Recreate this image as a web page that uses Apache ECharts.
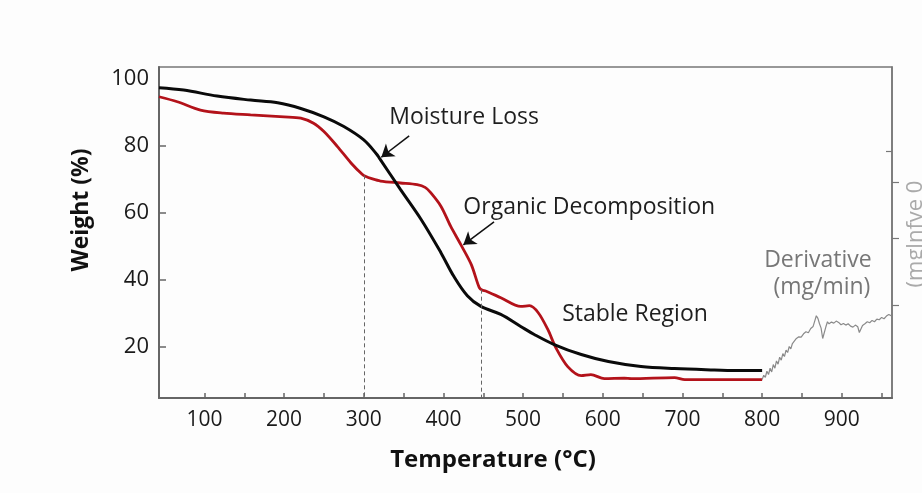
<!DOCTYPE html>
<html>
<head>
<meta charset="utf-8">
<script src="https://cdn.jsdelivr.net/npm/echarts@6/dist/echarts.min.js"></script>
<style>
html,body{margin:0;padding:0;background:#fdfdfd;}
#c{width:922px;height:493px;}
</style>
</head>
<body>
<div id="c"></div>
<script>
// ---- data ----
const blackTemp   = [43,74,116,158,192,221,250,275,300,316,320,346,372,397,413,430,447,472,497,514,539,573,607,648,690,740,774,800];
const blackWeight = [97.4,96.7,94.9,93.7,92.9,91.2,88.7,85.8,81.8,77.6,76.2,67,58,48,41,35.2,32,29.6,26,23.6,20.6,17.6,15.5,14,13.4,13,12.8,12.8];

const redTemp   = [43,66,95,124,158,200,221,237,250,267,284,298,302,310,321,346,367,377,384,397,409,422,435,445,449,453,472,497,508,519,531,541,556,573,585,602,627,636,690,703,800];
const redWeight = [94.7,93.2,90.7,89.8,89.3,88.7,88.3,86.8,84.3,79.8,74.9,71.5,70.9,70.2,69.5,68.9,68.4,67.6,66,61.9,56,50.4,44.5,37.6,36.8,36.6,34.6,32,32.2,30.1,25.1,19.7,14,11.3,11.6,10.4,10.5,10.4,10.7,10.1,10.1];

const derivTemp  = [800,802,804,806,808,810,812,814,816,818,820,822,824,826,828,830,832,834,836,838,840,843,846,849,852,855,858,861,864,866,868,870,872,874,876,878,880,882,884,887,890,893,896,899,902,905,908,911,914,917,920,922,924,926,929,932,935,938,941,944,947,950,953,956,959,962];
const derivValue = [10.1,11.4,10.8,12.6,11.6,13.5,12.4,14.6,13.5,15.7,14.7,16.8,15.9,17.9,17.0,18.9,18.2,20.0,19.3,20.9,21.0,22.4,22.9,22.8,23.8,24.4,24.1,25.4,26.0,27.6,29.2,28.4,26.8,25.5,22.4,22.0,25.9,27.4,26.8,27.3,27.0,27.6,27.2,26.5,26.9,26.4,26.8,26.1,25.8,26.4,25.9,24.2,24.6,26.3,26.8,27.4,27.1,27.8,27.4,28.2,28.0,28.7,28.3,29.1,29.6,29.2];

const xTickLabels = [100,200,300,400,500,600,700,800,900];
const xMinorTicks = [100,150,200,250,300,350,400,450,500,550,600,650,700,750,800,850,900,950];
const yTickLabels = [20,40,60,80,100];
const yTicks      = [20,40,60,80];
const rightTicksOut = [32.2,52.5,69];
const rightTicksIn  = [78.5];

const annotations = [
  {name:'Moisture Loss', t:332, w:88.4},
  {name:'Organic Decomposition', t:425, w:61.5},
  {name:'Stable Region', t:549, w:29.5}
];
const arrows = [
  {from:[357,83], to:[322,76.6]},
  {from:[463.5,57.3], to:[425,50.4]}
];
const dashedAt = [[300,71.2],[447,37]];

// ---- chart ----
const zip = (a,b)=>a.map((v,i)=>[v,b[i]]);
const chart = echarts.init(document.getElementById('c'), null, {renderer:'canvas'});
const FONT = 'Open Sans';
const xMin = 43, xMax = 963, yMin = 4.6, yMax = 103.6;

const yAxisBase = {
  type:'value', min:yMin, max:yMax, splitLine:{show:false}
};

chart.setOption({
  backgroundColor:'#fdfdfd',
  animation:false,
  grid:{left:159, right:30, top:67, bottom:95, show:true, borderColor:'#777', borderWidth:1.5, backgroundColor:'transparent'},
  xAxis:{
    type:'value', min:xMin, max:xMax,
    axisLine:{show:true, lineStyle:{color:'#666', width:2}},
    axisTick:{show:true, inside:true, length:5, customValues:xMinorTicks, lineStyle:{color:'#666', width:1.5}},
    axisLabel:{customValues:xTickLabels, fontFamily:FONT, fontSize:21, color:'#1a1a1a', margin:12},
    splitLine:{show:false}
  },
  yAxis:[
    Object.assign({}, yAxisBase, {
      position:'left',
      axisLine:{show:true, lineStyle:{color:'#666', width:2}},
      axisTick:{show:true, inside:true, length:7, customValues:yTicks, lineStyle:{color:'#666', width:1.5}},
      axisLabel:{customValues:yTickLabels, fontFamily:FONT, fontSize:22, color:'#1a1a1a', margin:10}
    }),
    Object.assign({}, yAxisBase, {
      position:'right',
      axisLine:{show:true, lineStyle:{color:'#777', width:1.5}},
      axisTick:{show:true, inside:false, length:7, customValues:rightTicksOut, lineStyle:{color:'#777', width:1.2}},
      axisLabel:{show:false}
    }),
    Object.assign({}, yAxisBase, {
      position:'right',
      axisLine:{show:false},
      axisTick:{show:true, inside:true, length:6, customValues:rightTicksIn, lineStyle:{color:'#777', width:1.2}},
      axisLabel:{show:false}
    })
  ],
  graphic:[
    {type:'text', x:493, y:460,
     style:{text:'Temperature (°C)', fill:'#111', font:'bold 24px "Open Sans"', textAlign:'center', textVerticalAlign:'middle'}},
    {type:'text', x:81, y:210, rotation:Math.PI/2,
     style:{text:'Weight (%)', fill:'#111', font:'bold 23px "Open Sans"', textAlign:'center', textVerticalAlign:'middle'}},
    {type:'text', x:916, y:234, rotation:Math.PI/2,
     style:{text:'(mglnfve 0', fill:'#aaa', font:'22px "Open Sans"', textAlign:'center', textVerticalAlign:'middle'}}
  ],
  series:[
    {
      name:'TGA sample A', type:'line', data:zip(blackTemp, blackWeight),
      showSymbol:false, smooth:0.35,
      lineStyle:{color:'#0a0a0a', width:3}, z:3,
      markLine:{
        silent:true, symbol:['none','arrow'], symbolSize:12, label:{show:false},
        itemStyle:{color:'#111'},
        lineStyle:{color:'#111', width:1.5, type:'solid'},
        data: arrows.map(a=>[{coord:a.from},{coord:a.to}])
      },
      markPoint:{
        silent:true, symbol:'circle', symbolSize:0,
        data: annotations.map(a=>({coord:[a.t,a.w], name:a.name,
          label:{show:true, position:'right', distance:0, formatter:a.name, fontFamily:FONT, fontSize:23, color:'#1e1e1e'}}))
      }
    },
    {
      name:'TGA sample B', type:'line', data:zip(redTemp, redWeight),
      showSymbol:false, smooth:0.3,
      lineStyle:{color:'#b3121a', width:2.8}, z:2,
      markLine:{
        silent:true, symbol:['none','none'], label:{show:false},
        lineStyle:{color:'#666', width:1, type:[4,3]},
        data: dashedAt.map(d=>[{coord:[d[0],d[1]]},{coord:[d[0],yMin]}])
      }
    },
    {
      name:'Derivative', type:'line', data:zip(derivTemp, derivValue),
      showSymbol:false, smooth:false,
      lineStyle:{color:'#8a8a8a', width:1.2}, z:4,
      markPoint:{
        silent:true, symbol:'circle', symbolSize:0,
        data:[
          {coord:[870,45.7], label:{show:true, position:'inside', formatter:'Derivative', fontFamily:FONT, fontSize:23, color:'#777'}},
          {coord:[875,37.6], label:{show:true, position:'inside', formatter:'(mg/min)', fontFamily:FONT, fontSize:23, color:'#777'}}
        ]
      }
    }
  ]
});
</script>
</body>
</html>
